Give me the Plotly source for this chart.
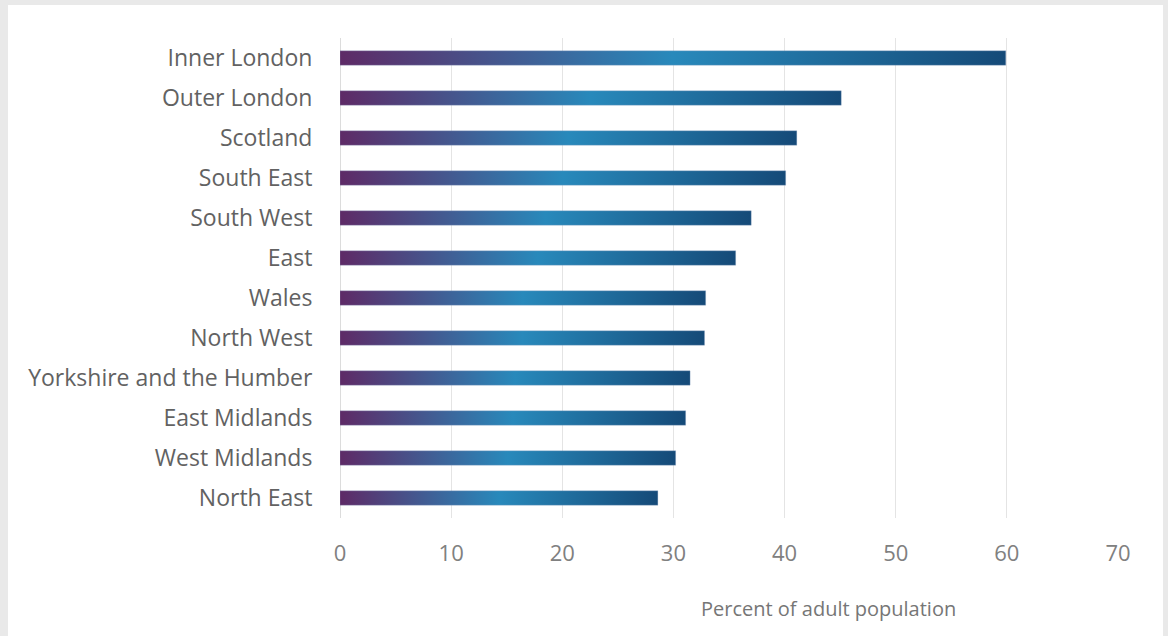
import plotly.graph_objects as go

regions = ["North East", "West Midlands", "East Midlands", "Yorkshire and the Humber",
           "North West", "Wales", "East", "South West", "South East", "Scotland",
           "Outer London", "Inner London"]
values = [28.6, 30.2, 31.1, 31.5, 32.8, 32.9, 35.6, 37.0, 40.1, 41.1, 45.1, 59.9]
x_ticks = [0, 10, 20, 30, 40, 50, 60, 70]
x_title = "Percent of adult population"

gradient = [[0.0, "#5e2a66"], [0.5, "#2889bb"], [1.0, "#154a78"]]
half = 0.18

fig = go.Figure()
for i, (name, v) in enumerate(zip(regions, values)):
    fig.add_trace(go.Scatter(
        x=[0, v, v, 0, 0],
        y=[i - half, i - half, i + half, i + half, i - half],
        mode="lines", fill="toself",
        line=dict(width=0.6, color="rgba(150,170,200,0.5)"),
        fillgradient=dict(type="horizontal", colorscale=gradient),
        hoverinfo="text", text=f"{name}: {v}", name=name, showlegend=False,
    ))

W, H = 1168, 636
ml, mr, mt, mb = 340, 50, 38, 118
pw, ph = W - ml - mr, H - mt - mb

def px(x):
    return (x - ml) / pw

def py(y):
    return (H - mb - y) / ph

fig.add_shape(type="rect", xref="paper", yref="paper",
              x0=px(8), x1=px(1163), y0=py(640), y1=py(5),
              fillcolor="white", line=dict(width=0), layer="below")

fig.add_annotation(text=x_title, xref="paper", yref="paper",
                   x=px(828), y=py(608), xanchor="center", yanchor="middle",
                   showarrow=False,
                   font=dict(size=20, color="#767676", family="Open Sans"))

fig.update_layout(
    width=W, height=H,
    margin=dict(l=ml, r=mr, t=mt, b=mb),
    paper_bgcolor="#e9e9e9", plot_bgcolor="white",
    font=dict(family="Open Sans", color="#606060"),
    xaxis=dict(range=[0, 70], tickvals=x_ticks, showgrid=True, gridcolor="#e4e4e4",
               gridwidth=1, zeroline=True, zerolinecolor="#dcdcdc", zerolinewidth=1,
               showline=False, ticks="outside", ticklen=16, tickcolor="rgba(0,0,0,0)",
               tickfont=dict(size=22, color="#808080"), fixedrange=True),
    yaxis=dict(range=[-0.5, 11.5], tickvals=list(range(len(regions))), ticktext=regions,
               showgrid=False, zeroline=False, showline=False, ticks="outside",
               ticklen=22, tickcolor="rgba(0,0,0,0)",
               tickfont=dict(size=23, color="#626262"), fixedrange=True),
)

fig.write_html("out.html", config={"displayModeBar": False},
               post_script="document.body.style.margin='0px';document.body.style.overflow='hidden';")
